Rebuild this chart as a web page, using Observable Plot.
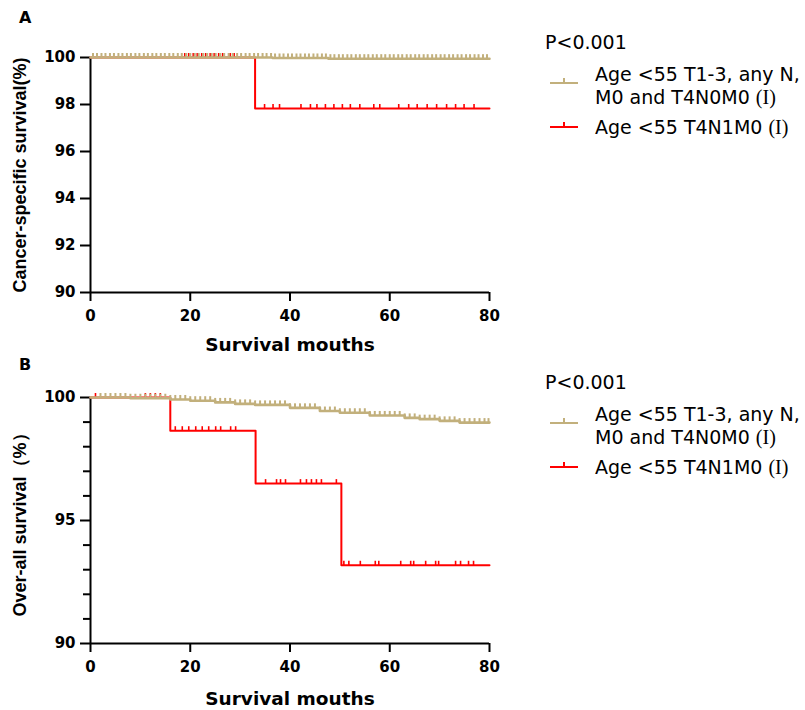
<!DOCTYPE html>
<html><head><meta charset="utf-8">
<script src="https://cdn.jsdelivr.net/npm/d3@7"></script>
<script src="https://cdn.jsdelivr.net/npm/@observablehq/plot@0.6"></script>
<style>
body{margin:0;background:#fff;}
#wrap{position:relative;width:805px;height:710px;overflow:hidden;font-family:"DejaVu Sans",sans-serif;}
.abs{position:absolute;white-space:nowrap;color:#000;}
.lg{font-size:19px;line-height:24px;}
.rn{font-family:"Liberation Serif",serif;font-size:20px;}
.sw{position:absolute;height:2px;width:28px;}
.sw i{position:absolute;left:13px;top:-4px;width:2px;height:4px;}
.letter{font-weight:bold;font-size:16px;line-height:20px;}
svg{position:absolute;left:0;}
</style></head><body><div id="wrap"></div>
<script>
// ---------- data ----------
const xTicks = [0, 20, 40, 60, 80];
const yTicksA = [90, 92, 94, 96, 98, 100];
const yTicksB = [90, 95, 100];
const yMinorB = [91, 92, 93, 94, 96, 97, 98, 99];

const seriesNames = ["Age <55 T1-3, any N, M0 and T4N0M0", "Age <55 T4N1M0"];
const legendLines = [["Age <55 T1-3, any N,", "M0 and T4N0M0"], ["Age <55 T4N1M0"]];
const romanTag = "(I)";
const pText = "P<0.001";
const seriesColors = ["#c2b07c", "#ff0000"];

// Panel A (cancer-specific survival)
const tanA_t = [0, 36.5, 47.7, 80];
const tanA_s = [100, 99.98, 99.95, 99.95];
const redA_t = [0, 33, 80];
const redA_s = [100, 97.83, 97.83];
const tanCensorA = [0.5,1.3,2.2,3.0,3.9,4.7,5.6,6.4,7.3,8.1,9.0,9.8,10.7,11.5,12.4,13.2,14.1,14.9,15.8,16.6,17.5,18.3,19.2,20.0,20.9,21.7,22.6,23.4,24.3,25.1,26.0,26.8,27.7,28.5,29.4,30.2,31.1,31.9,32.8,33.6,34.5,35.3,36.2,37.0,37.9,38.7,39.6,40.4,41.3,42.1,43.0,43.8,44.7,45.5,46.4,47.2,48.1,48.9,49.8,50.6,51.5,52.3,53.2,54.0,54.9,55.7,56.6,57.4,58.3,59.1,60.0,60.8,61.7,62.5,63.4,64.2,65.1,65.9,66.8,67.6,68.5,69.3,70.2,71.0,71.9,72.7,73.6,74.4,75.3,76.1,77.0,77.8,78.7,79.5];
const redCensorA = [18.9,19.7,20.6,21.4,22.3,23.1,24.0,24.8,25.7,26.5,28.0,28.8,34.9,36.6,37.9,42.2,44.1,45.4,47.1,48.8,50.5,52.1,54.0,56.8,58.0,61.8,63.8,65.5,67.5,69.4,71.4,73.2,74.9,76.9];

// Panel B (overall survival)
const tanB_t = [0, 8, 16, 20, 25, 29, 33, 40, 46, 50, 56, 63, 66, 70, 74, 80];
const tanB_s = [100, 99.97, 99.92, 99.87, 99.8, 99.74, 99.7, 99.58, 99.45, 99.38, 99.27, 99.17, 99.12, 99.05, 98.98, 98.98];
const redB_t = [0, 16, 33.1, 50.3, 80];
const redB_s = [100, 98.65, 96.5, 93.18, 93.18];
const tanCensorB = [2,3,4,5,6,7,8,9,10,11,12,13,14,15,16,17,18,19,20,21,22,23,24,25,26,27,28,29,30,31,32,33,34,35,36,37,38,39,40,41,42,43,44,45,46,47,48,49,50,51,52,53,54,55,56,57,58,59,60,61,62,63,64,65,66,67,68,69,70,71,72,73,74,75,76,77,78,79,79.8];
const redCensorB = [1.0,11.0,12.0,13.0,14.0,17.0,18.4,19.7,21.1,22.4,23.7,25.1,26.1,28.1,29.1,35.1,37.3,38.1,39.1,42.1,43.3,44.3,45.3,46.3,49.3,50.8,51.8,54.1,57.1,57.8,62.2,64.2,64.8,67.2,69.2,69.8,73.2,74.2,75.8,76.8];

// ---------- helpers ----------
const steps = (t, s) => t.map((d, i) => ({t: d, s: s[i]}));
const censor = (times, t, s) => times.map(c => ({t: c, s: s[d3.bisectRight(t, c) - 1]}));
const censorSymbol = {draw(ctx) { ctx.moveTo(0, 0); ctx.lineTo(0, -4.5); }};
const lineW = [2.6, 2];
const tickW = [2, 1.6];

function panel(cfg) {
  const marks = [
    Plot.axisX({ticks: xTicks, tickSize: 9, tickPadding: 9, fontSize: 15, fontWeight: "bold", strokeWidth: 2, label: null}),
    Plot.axisY({ticks: cfg.yTicks, tickSize: 10, tickPadding: 5, fontSize: 15, fontWeight: "bold", strokeWidth: 2, label: null})
  ];
  if (cfg.yMinor) marks.push(Plot.axisY({ticks: cfg.yMinor, tickSize: 7, tickFormat: () => "", strokeWidth: 2, label: null}));
  marks.push(Plot.ruleX([0], {stroke: "black", strokeWidth: 2}));
  marks.push(Plot.ruleY([90], {stroke: "black", strokeWidth: 2}));
  // red first, tan on top
  [1, 0].forEach(k => {
    const c = cfg.curves[k];
    marks.push(Plot.line(steps(c.t, c.s), {x: "t", y: "s", curve: "step-after", stroke: seriesColors[k], strokeWidth: lineW[k]}));
    marks.push(Plot.dot(censor(c.cens, c.t, c.s), {x: "t", y: "s", symbol: censorSymbol, stroke: seriesColors[k], fill: "none", strokeWidth: tickW[k]}));
  });
  marks.push(Plot.text(["Survival mouths"], {frameAnchor: "bottom", lineAnchor: "middle", textAnchor: "middle", dy: cfg.xTitleDy, fontSize: 18.5, fontWeight: "bold"}));
  marks.push(Plot.text([cfg.yLabel], {frameAnchor: "left", textAnchor: "middle", lineAnchor: "middle", rotate: -90, dx: -70, fontSize: 18, fontWeight: "bold", fontFamily: "Liberation Sans"}));
  const svg = Plot.plot({
    width: 530, height: cfg.height,
    marginLeft: 90, marginRight: 41, marginTop: cfg.marginTop, marginBottom: cfg.marginBottom,
    x: {domain: [0, 80]},
    y: {domain: [90, 100]},
    style: {fontFamily: "DejaVu Sans", fontSize: "15px", fontWeight: "bold", color: "black", overflow: "visible", background: "transparent"},
    marks
  });
  svg.style.top = cfg.top + "px";
  return svg;
}

const wrap = document.getElementById("wrap");
wrap.appendChild(panel({
  top: 0, height: 360, marginTop: 57, marginBottom: 68, yTicks: yTicksA, xTitleDy: 53,
  yLabel: "Cancer-specific survival(%)",
  curves: [{t: tanA_t, s: tanA_s, cens: tanCensorA}, {t: redA_t, s: redA_s, cens: redCensorA}]
}));
wrap.appendChild(panel({
  top: 360, height: 350, marginTop: 37, marginBottom: 67, yTicks: yTicksB, yMinor: yMinorB, xTitleDy: 56,
  yLabel: "Over-all survival（%）",
  curves: [{t: tanB_t, s: tanB_s, cens: tanCensorB}, {t: redB_t, s: redB_s, cens: redCensorB}]
}));

// panel letters + legends
function addText(html, x, yc, cls, lh) {
  const d = document.createElement("div");
  d.className = "abs " + cls;
  d.style.left = x + "px";
  d.style.top = (yc - lh / 2) + "px";
  d.innerHTML = html;
  wrap.appendChild(d);
}
function legend(offset) {
  addText(pText, 545, 42 + offset, "lg", 24);
  const swY = [83, 127], textY = [[74, 97], [127]];
  legendLines.forEach((lines, k) => {
    const sw = document.createElement("div");
    sw.className = "sw";
    sw.style.left = "550px";
    sw.style.top = (swY[k] + offset - 1) + "px";
    sw.style.background = seriesColors[k];
    const tk = document.createElement("i");
    tk.style.background = seriesColors[k];
    sw.appendChild(tk);
    wrap.appendChild(sw);
    lines.forEach((ln, j) => {
      const last = j === lines.length - 1;
      addText(ln + (last ? ' <span class="rn">' + romanTag + '</span>' : ''), 595, textY[k][j] + offset, "lg", 24);
    });
  });
}
addText("A", 19, 18, "letter", 20);
addText("B", 19, 365, "letter", 20);
legend(0);
legend(340);
</script></body></html>
